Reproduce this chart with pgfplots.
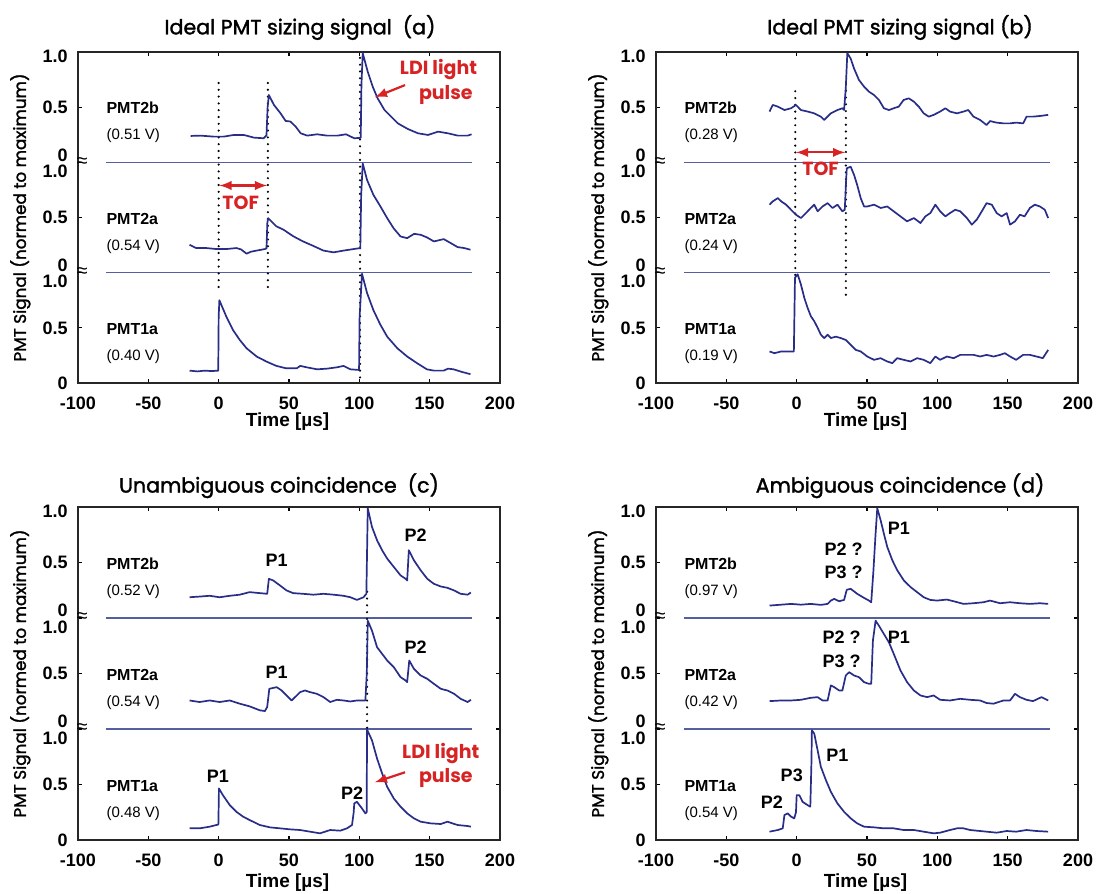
\documentclass[border=0pt]{standalone}
\usepackage{fontspec}
\setmainfont{Liberation Sans}
\newfontfamily\pop{Poppins}
\newfontfamily\popm{Poppins}[FakeBold=1.6]
\usepackage{pgfplots}
\pgfplotsset{compat=1.18}
\usepackage{pgfplotstable}
\definecolor{tracecol}{RGB}{40,45,135}
\definecolor{sepcol}{RGB}{85,95,160}
\definecolor{annred}{RGB}{215,35,35}
\newcommand{\tfont}{\fontsize{9}{10}\selectfont\bfseries}
\newcommand{\lfont}{\fontsize{8}{9}\selectfont\bfseries}
\newcommand{\vfont}{\fontsize{7.5}{9}\selectfont}
\newcommand{\pfont}{\fontsize{9}{10}\selectfont\bfseries}
\newcommand{\rfont}{\pop\fontsize{9.5}{11}\selectfont\bfseries}
\newcommand{\ttlfont}{\popm\fontsize{10.3}{12}\selectfont}
\newcommand{\ylfont}{\popm\fontsize{8.4}{9}\selectfont}

\pgfplotsset{
 pmt/.style={
  scale only axis, width=211pt,
  xmin=-100,xmax=200,ymin=0,ymax=3,
  xtick={-100,-50,0,50,100,150,200},
  xticklabels={-100,-50,0,50,100,150,200},
  ytick={0,0.5,1,1.5,2,2.5,3},
  yticklabels={0,0.5,,0.5,,0.5,},
  tick align=inside, major tick length=2pt,
  tick style={black, line width=0.6pt},
  axis line style={black!85, line width=0.7pt},
  tick label style={font=\tfont},
  yticklabel style={inner xsep=0pt, xshift=-5pt},
  xticklabel style={yshift=-3.5pt},
  clip=false,
  anchor=south west,
 },
 tr/.style={tracecol, line width=0.85pt, line join=round},
 sep/.style={sepcol, line width=0.8pt},
 dots/.style={black, line width=1.2pt, dash pattern=on 0pt off 3.4pt, line cap=round},
 redarr/.style={annred, line width=1.1pt},
}

\newcommand{\breaks}{%
 \addplot[sep] coordinates {(-80,1) (180,1)};
 \addplot[sep] coordinates {(-80,2) (180,2)};
 \node[font=\tfont, anchor=east, inner xsep=0pt, xshift=-5pt, yshift=3.75pt] at (axis cs:-100,1) {0};
 \node[font=\tfont, anchor=east, inner xsep=0pt, xshift=-5pt, yshift=-4.5pt] at (axis cs:-100,1) {1.0};
 \node[font=\tfont, anchor=east, inner xsep=0pt, xshift=-5pt, yshift=3.75pt] at (axis cs:-100,2) {0};
 \node[font=\tfont, anchor=east, inner xsep=0pt, xshift=-5pt, yshift=-4.5pt] at (axis cs:-100,2) {1.0};
 \node[font=\tfont, anchor=east, inner xsep=0pt, xshift=-5pt, yshift=-2.25pt] at (axis cs:-100,3) {1.0};
 \node[font=\fontsize{10}{10}\selectfont, inner sep=0pt] at (axis cs:-97,1) {≈};
 \node[font=\fontsize{10}{10}\selectfont, inner sep=0pt] at (axis cs:-97,2) {≈};
 \node[font=\ylfont, rotate=90] at (axis cs:-141,1.5) {PMT Signal (normed to maximum)};
}
\newcommand{\pmtlab}[3]{%
 \node[font=\lfont, anchor=west, inner sep=0pt] at (axis cs:-80,#1+0.49) {#2};
 \node[font=\vfont, anchor=west, inner sep=0pt] at (axis cs:-80,#1+0.24) {#3};
}

% ---------------- panel (a)
\pgfplotstableread{
x y
-20.7 0.112
-15 0.105
-10 0.112
-5 0.108
-0.3 0.112
0.0 0.60
0.5 0.75
5.5 0.60
10.2 0.48
15 0.39
19.8 0.315
27 0.24
34 0.194
41 0.155
48 0.133
55.5 0.133
58 0.155
62.6 0.142
70 0.124
77 0.13
84 0.142
88.8 0.155
93.6 0.124
99.8 0.118
100.2 0.60
101.9 0.99
105.5 0.815
110 0.66
115 0.527
119.8 0.42
127 0.315
134 0.24
141 0.18
148 0.124
153 0.112
160 0.112
163 0.13
167 0.124
173 0.1
179 0.08
}\Aone
\pgfplotstableread{
x y
-20.7 0.253
-16 0.223
-8.8 0.223
-1.7 0.214
5.5 0.214
12.6 0.223
16 0.21
19.8 0.172
23 0.19
27 0.2
32.9 0.214
34 0.22
34.6 0.45
35.2 0.494
41 0.42
46 0.39
53 0.33
60 0.283
67 0.244
74.5 0.2
81.7 0.184
88.8 0.2
96 0.214
100.7 0.223
101.3 0.7
102.4 0.99
105.5 0.84
110 0.705
115 0.6
119.8 0.494
124.5 0.40
129.3 0.328
134 0.313
139 0.352
143.6 0.343
148 0.32
153 0.283
160 0.304
165 0.268
169.8 0.232
174.5 0.223
179 0.208
}\Atwo
\pgfplotstableread{
x y
-20 0.239
-13 0.242
-3.6 0.233
3.6 0.233
10.7 0.248
17.9 0.248
25 0.224
32 0.218
34 0.245
34.8 0.5
35.7 0.61
39.3 0.52
44 0.444
47.6 0.375
51 0.37
54.8 0.323
58.3 0.263
63 0.242
70 0.254
77 0.242
84.5 0.242
90.5 0.254
96.4 0.218
101 0.222
101.5 0.7
102.4 0.99
106 0.82
109.5 0.686
113 0.58
117.9 0.474
122.6 0.414
127.4 0.353
134.5 0.302
141.7 0.263
148.8 0.248
156 0.278
163 0.263
170 0.242
177 0.242
179.8 0.254
}\Athree
% ---------------- panel (b)
\pgfplotstableread{
x y
-19.3 0.286
-15.8 0.27
-11 0.286
-6.4 0.286
-2 0.286
-1.2 0.954
0.7 0.985
3 0.894
5.4 0.772
7.8 0.68
10.1 0.605
12.5 0.56
14.9 0.5
17.2 0.438
19.6 0.407
22 0.438
24.3 0.407
27.8 0.42
31.4 0.407
34.9 0.39
38.4 0.346
42 0.30
45.5 0.286
50.2 0.24
55 0.21
59.7 0.225
64.4 0.195
68 0.18
71.5 0.225
76 0.21
81 0.195
85.6 0.225
90.3 0.21
95 0.18
98.6 0.24
102 0.21
106.8 0.24
111.6 0.225
116.3 0.255
121 0.255
125.7 0.255
130.4 0.24
135 0.255
139.9 0.24
144.6 0.255
148 0.27
151.7 0.24
156 0.21
161 0.255
165.8 0.255
170.5 0.24
175 0.225
178.8 0.30
}\Bone
\pgfplotstableread{
x y
-19.3 0.616
-17 0.646
-13.4 0.676
-11 0.646
-7.5 0.616
-4 0.57
-0.5 0.525
3 0.495
6.6 0.54
10 0.586
12.5 0.616
14.9 0.556
18.4 0.60
22 0.63
25.5 0.586
29 0.616
32.5 0.556
34.2 0.57
35.0 0.80
35.6 0.946
38.4 0.96
40.8 0.886
43 0.796
45.5 0.676
47.9 0.60
50.2 0.60
55 0.616
59.7 0.586
64.4 0.60
69 0.556
73.8 0.51
78.5 0.465
83.3 0.495
88 0.45
91.5 0.51
95 0.54
98.6 0.616
102 0.556
105.7 0.51
109 0.54
112.7 0.57
116.3 0.556
121 0.495
124.5 0.435
128 0.48
131.6 0.556
135 0.63
138.7 0.616
142.2 0.54
145.7 0.51
149.3 0.54
151.7 0.435
155.2 0.465
158.7 0.525
162 0.51
165.8 0.586
169.3 0.616
172.9 0.60
176.4 0.57
178.8 0.495
}\Btwo
\pgfplotstableread{
x y
-19.3 0.46
-17 0.52
-13.4 0.505
-8.7 0.474
-4 0.49
-0.5 0.52
3 0.474
7.8 0.46
12.5 0.444
17.2 0.414
19.6 0.384
24.3 0.444
29 0.474
32.5 0.49
33.7 0.474
34.9 0.67
36 0.99
38.4 0.94
40.8 0.85
44.3 0.746
47.9 0.686
51.4 0.64
55 0.61
58.5 0.565
62 0.49
65.6 0.474
69 0.49
72.6 0.505
76 0.565
79.7 0.58
83.3 0.55
86.8 0.505
90.3 0.444
93.9 0.414
97.4 0.43
102 0.46
105.7 0.49
109 0.46
114 0.444
118.6 0.46
122 0.474
125.7 0.414
130.4 0.384
135 0.338
137.5 0.374
142 0.36
147 0.353
151.7 0.353
156 0.36
161 0.353
163.4 0.414
168 0.414
173 0.42
178.8 0.43
}\Bthree
% ---------------- panel (c)
\pgfplotstableread{
x y
-20.7 0.105
-13.6 0.105
-6.4 0.12
-1.7 0.135
-0.2 0.14
0.2 0.464
3 0.404
7.9 0.314
12.6 0.254
17.4 0.21
22 0.18
29.3 0.135
36.4 0.114
43.6 0.105
50.7 0.096
57.9 0.09
65 0.075
72 0.06
79.3 0.09
86.4 0.084
91.2 0.105
94.8 0.135
96.0 0.25
96.4 0.33
98.3 0.344
101.9 0.284
104.3 0.24
105.2 0.25
105.5 0.994
109 0.898
112.6 0.734
116.2 0.60
119.8 0.479
124.5 0.374
129.3 0.30
134 0.24
138.8 0.195
143.6 0.165
150.7 0.15
157.9 0.144
162.6 0.165
169.8 0.135
177 0.126
179.3 0.12
}\Cone
\pgfplotstableread{
x y
-20.7 0.257
-13.6 0.243
-6.4 0.257
0.7 0.243
7.9 0.257
15 0.228
22 0.204
29.3 0.168
32.9 0.162
34.5 0.198
36 0.362
41.2 0.377
44.8 0.347
48.3 0.302
51.9 0.257
54.3 0.287
57.9 0.332
61.4 0.347
65 0.332
69.8 0.317
74.5 0.287
79.3 0.243
84 0.263
88.8 0.257
93.6 0.248
98.3 0.257
104.3 0.257
105.3 0.5
106 0.976
109 0.886
112.6 0.737
116.2 0.677
119.8 0.617
124.5 0.557
129.3 0.467
132.9 0.437
134 0.422
135.5 0.617
138.8 0.542
143.6 0.482
148.3 0.452
153 0.407
157.9 0.362
162.6 0.347
167.4 0.317
172 0.272
177 0.243
179.3 0.263
}\Ctwo
\pgfplotstableread{
x y
-20.7 0.187
-13.6 0.193
-6.4 0.2
0.7 0.187
7.9 0.2
15 0.21
22 0.233
29.3 0.224
34.5 0.218
35.7 0.353
38.8 0.338
43.6 0.293
48.3 0.248
53 0.224
60 0.218
67.4 0.21
74.5 0.218
81.7 0.21
88.8 0.2
93.6 0.187
98.3 0.163
103 0.187
105 0.218
106 0.988
109 0.82
112.6 0.70
116.2 0.61
119.8 0.535
124.5 0.46
129.3 0.384
132.9 0.353
134 0.338
135.2 0.61
138.8 0.52
143.6 0.43
148.3 0.353
153 0.308
157.9 0.284
162.6 0.272
167.4 0.248
172 0.218
177 0.21
179.3 0.23
}\Cthree
% ---------------- panel (d)
\pgfplotstableread{
x y
-19.3 0.075
-13.4 0.09
-9.9 0.105
-8.7 0.225
-6.4 0.24
-4 0.21
-1.7 0.195
-0.5 0.25
0 0.404
1.9 0.404
4.2 0.344
7.8 0.314
9.7 0.30
10.5 0.7
10.8 0.988
12.5 0.958
14.9 0.808
17.2 0.659
20.8 0.539
24.3 0.434
29 0.329
33.7 0.254
38.4 0.195
43 0.15
47.9 0.12
55 0.114
62 0.105
69 0.105
76 0.09
83.3 0.09
90.3 0.075
97.4 0.06
102 0.066
109 0.09
114 0.105
118.6 0.105
123.3 0.09
130.4 0.081
135 0.075
142.2 0.066
149.3 0.081
156 0.075
163.4 0.09
170.5 0.081
178.8 0.075
}\Done
\pgfplotstableread{
x y
-19.3 0.251
-11 0.257
-4 0.257
3 0.263
10 0.281
14.9 0.287
18.4 0.257
22 0.257
24.3 0.392
26.7 0.377
30.2 0.347
32.5 0.347
34.9 0.482
37.3 0.512
40.8 0.482
44.3 0.467
47.9 0.422
51.4 0.407
53 0.407
54.2 0.796
56.1 0.976
58.5 0.93
62 0.856
65.6 0.78
69 0.677
73.8 0.527
78.5 0.422
83.3 0.347
88 0.302
92.7 0.287
97.4 0.302
102 0.263
109 0.257
116.3 0.272
123.3 0.263
130.4 0.257
135 0.234
139.9 0.228
147 0.257
151.7 0.257
155.2 0.317
158.7 0.287
163.4 0.263
168 0.251
174 0.287
178.8 0.257
}\Dtwo
\pgfplotstableread{
x y
-19.3 0.112
-11 0.12
-4 0.127
3 0.12
10 0.127
17.2 0.118
22 0.127
24.3 0.157
26.7 0.172
30.2 0.151
33.7 0.163
35.6 0.254
38.4 0.263
43 0.218
47.9 0.181
51.4 0.157
53 0.142
54.5 0.414
56.1 0.76
57.3 0.988
59.7 0.88
62 0.76
64.4 0.64
68 0.52
71.5 0.43
76.2 0.338
81 0.278
85.6 0.233
90.3 0.187
95 0.163
99.8 0.157
106.8 0.166
111.6 0.151
118.6 0.127
125.7 0.133
132.8 0.142
137.5 0.157
144.6 0.133
151.7 0.142
158.7 0.133
165.8 0.127
172.9 0.133
178.8 0.127
}\Dthree

\begin{document}
\begin{tikzpicture}
\useasboundingbox (0,0) rectangle (548pt,446.5pt);

% ===== (a)
\begin{axis}[pmt, at={(39pt,255pt)}, height=165.5pt]
\breaks
\addplot[dots] coordinates {(0,0.87) (0,2.78)};
\addplot[dots] coordinates {(35,0.87) (35,2.78)};
\addplot[dots] coordinates {(100.5,0.05) (100.5,2.98)};
\addplot[tr] table[x index=0, y expr=\thisrowno{1}] {\Aone};
\addplot[tr] table[x index=0, y expr=\thisrowno{1}+1] {\Atwo};
\addplot[tr] table[x index=0, y expr=\thisrowno{1}+2] {\Athree};
\pmtlab{2}{PMT2b}{(0.51 V)}
\pmtlab{1}{PMT2a}{(0.54 V)}
\pmtlab{0}{PMT1a}{(0.40 V)}
\addplot[redarr, <->, >=latex] coordinates {(0.5,1.79) (34.5,1.79)};
\node[font=\rfont, text=annred] at (axis cs:15.7,1.63) {TOF};
\node[font=\rfont, text=annred] at (axis cs:156.3,2.84) {LDI light};
\node[font=\rfont, text=annred] at (axis cs:161.5,2.61) {pulse};
\addplot[redarr, ->, >=latex] coordinates {(132.5,2.70) (111,2.59)};
\node[font=\ttlfont, anchor=base] at (axis cs:57.8,3.16) {Ideal PMT sizing signal\ \ (a)};
\node[font=\fontsize{9.5}{11}\selectfont\bfseries, anchor=base] at (axis cs:49,-0.39) {Time [µs]};
\end{axis}

% ===== (b)
\begin{axis}[pmt, at={(328pt,255pt)}, height=165.5pt]
\breaks
\addplot[dots] coordinates {(-1,0.98) (-1,2.70)};
\addplot[dots] coordinates {(35,0.80) (35,2.70)};
\addplot[tr] table[x index=0, y expr=\thisrowno{1}] {\Bone};
\addplot[tr] table[x index=0, y expr=\thisrowno{1}+1] {\Btwo};
\addplot[tr] table[x index=0, y expr=\thisrowno{1}+2] {\Bthree};
\pmtlab{2}{PMT2b}{(0.28 V)}
\pmtlab{1}{PMT2a}{(0.24 V)}
\pmtlab{0}{PMT1a}{(0.19 V)}
\addplot[redarr, <->, >=latex] coordinates {(-0.5,2.09) (34.5,2.09)};
\node[font=\rfont, text=annred] at (axis cs:17,1.94) {TOF};
\node[font=\ttlfont, anchor=base] at (axis cs:73.5,3.16) {Ideal PMT sizing signal (b)};
\node[font=\fontsize{9.5}{11}\selectfont\bfseries, anchor=base] at (axis cs:49,-0.39) {Time [µs]};
\end{axis}

% ===== (c)
\begin{axis}[pmt, at={(39pt,26.5pt)}, height=166.5pt]
\breaks
\addplot[dots] coordinates {(105.5,0.95) (105.5,2.25)};
\addplot[tr] table[x index=0, y expr=\thisrowno{1}] {\Cone};
\addplot[tr] table[x index=0, y expr=\thisrowno{1}+1] {\Ctwo};
\addplot[tr] table[x index=0, y expr=\thisrowno{1}+2] {\Cthree};
\pmtlab{2}{PMT2b}{(0.52 V)}
\pmtlab{1}{PMT2a}{(0.54 V)}
\pmtlab{0}{PMT1a}{(0.48 V)}
\node[font=\pfont] at (axis cs:41.2,2.52) {P1};
\node[font=\pfont] at (axis cs:140,2.75) {P2};
\node[font=\pfont] at (axis cs:41.2,1.51) {P1};
\node[font=\pfont] at (axis cs:140,1.74) {P2};
\node[font=\pfont] at (axis cs:-0.5,0.57) {P1};
\node[font=\pfont] at (axis cs:94.8,0.42) {P2};
\node[font=\rfont, text=annred] at (axis cs:157.9,0.78) {LDI light};
\node[font=\rfont, text=annred] at (axis cs:161.5,0.56) {pulse};
\addplot[redarr, ->, >=latex] coordinates {(132.5,0.61) (111,0.52)};
\node[font=\ttlfont, anchor=base] at (axis cs:42.9,3.13) {Unambiguous coincidence\ \ (c)};
\node[font=\fontsize{9.5}{11}\selectfont\bfseries, anchor=base] at (axis cs:49,-0.43) {Time [µs]};
\end{axis}

% ===== (d)
\begin{axis}[pmt, at={(328pt,26.5pt)}, height=166.5pt]
\breaks
\addplot[tr] table[x index=0, y expr=\thisrowno{1}] {\Done};
\addplot[tr] table[x index=0, y expr=\thisrowno{1}+1] {\Dtwo};
\addplot[tr] table[x index=0, y expr=\thisrowno{1}+2] {\Dthree};
\pmtlab{2}{PMT2b}{(0.97 V)}
\pmtlab{1}{PMT2a}{(0.42 V)}
\pmtlab{0}{PMT1a}{(0.54 V)}
\node[font=\pfont] at (axis cs:72.6,2.81) {P1};
\node[font=\pfont] at (axis cs:33.3,2.62) {P2 ?};
\node[font=\pfont] at (axis cs:33.3,2.41) {P3 ?};
\node[font=\pfont] at (axis cs:72.6,1.83) {P1};
\node[font=\pfont] at (axis cs:32,1.83) {P2 ?};
\node[font=\pfont] at (axis cs:32,1.61) {P3 ?};
\node[font=\pfont] at (axis cs:29,0.763) {P1};
\node[font=\pfont] at (axis cs:-3.5,0.584) {P3};
\node[font=\pfont] at (axis cs:-17.7,0.344) {P2};
\node[font=\ttlfont, anchor=base] at (axis cs:73.5,3.13) {Ambiguous coincidence (d)};
\node[font=\fontsize{9.5}{11}\selectfont\bfseries, anchor=base] at (axis cs:49,-0.43) {Time [µs]};
\end{axis}
\end{tikzpicture}
\end{document}
